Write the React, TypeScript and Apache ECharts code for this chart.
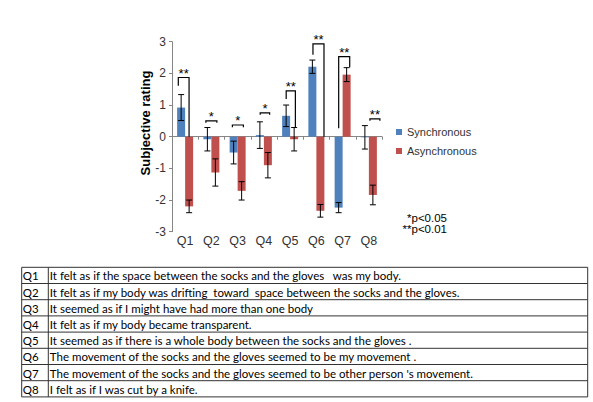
import React, { useEffect, useRef } from "react";
import * as echarts from "echarts";

const categories = ["Q1", "Q2", "Q3", "Q4", "Q5", "Q6", "Q7", "Q8"];
const syncMeans = [0.92, -0.08, -0.5, 0.05, 0.66, 2.21, -2.24, -0.02];
const syncErrors = [0.41, 0.37, 0.36, 0.42, 0.34, 0.21, 0.16, 0.37];
const asyncMeans = [-2.2, -1.13, -1.71, -0.9, -0.08, -2.34, 1.96, -1.84];
const asyncErrors = [0.2, 0.43, 0.29, 0.4, 0.37, 0.2, 0.22, 0.31];
const yTicks = [-3, -2, -1, 0, 1, 2, 3];
// [category, left offset (band fraction), right offset, left leg bottom, top, right leg bottom, mark]
const brackets: [number, number, number, number, number, number, string][] = [
  [0, -0.26, 0.15, 1.61, 1.87, 0, "**"],
  [1, -0.21, 0.21, 0.44, 0.5, 0.44, "*"],
  [2, -0.2, 0.22, 0.3, 0.37, 0.3, "*"],
  [3, -0.14, 0.22, 0.69, 0.75, 0.69, "*"],
  [4, -0.15, 0.2, 1.19, 1.45, 0.29, "**"],
  [5, -0.13, 0.29, 2.59, 2.93, 0, "**"],
  [6, -0.15, 0.27, 0.27, 2.53, 2.19, "**"],
  [7, 0.04, 0.42, 0.5, 0.56, 0.5, "**"],
];
const notes = ["*p<0.05", "**p<0.01"];
const questions = [
  "It felt as if the space between the socks and the gloves   was my body.",
  "It felt as if my body was drifting  toward  space between the socks and the gloves.",
  "It seemed as if I might have had more than one body",
  "It felt as if my body became transparent.",
  "It seemed as if there is a whole body between the socks and the gloves .",
  "The movement of the socks and the gloves seemed to be my movement .",
  "The movement of the socks and the gloves seemed to be other person 's movement.",
  "I felt as if I was cut by a knife.",
];

const BAR_W = 8;
const FONT = "'Liberation Sans', Arial, sans-serif";

function errorRenderer(offset: number) {
  return (params: any, api: any) => {
    const c = api.value(0);
    const v = api.value(1);
    const e = api.value(2);
    const top = api.coord([c, v + e]);
    const bot = api.coord([c, v - e]);
    const x = top[0] + offset;
    const style = { stroke: "#000", lineWidth: 1 };
    return {
      type: "group",
      children: [
        { type: "line", shape: { x1: x, y1: top[1], x2: x, y2: bot[1] }, style },
        { type: "line", shape: { x1: x - 3, y1: top[1], x2: x + 3, y2: top[1] }, style },
        { type: "line", shape: { x1: x - 3, y1: bot[1], x2: x + 3, y2: bot[1] }, style },
      ],
    };
  };
}

function bracketRenderer(params: any, api: any) {
  const c = api.value(0);
  const lf = api.value(1);
  const rf = api.value(2);
  const lb = api.value(3);
  const t = api.value(4);
  const rb = api.value(5);
  const band = api.size([1, 0])[0];
  const pt = api.coord([c, t]);
  const xl = pt[0] + lf * band;
  const xr = pt[0] + rf * band;
  const yl = api.coord([c, lb])[1];
  const yr = api.coord([c, rb])[1];
  const mark = brackets[params.dataIndex][6];
  return {
    type: "group",
    children: [
      {
        type: "polyline",
        shape: { points: [[xl, yl], [xl, pt[1]], [xr, pt[1]], [xr, yr]] },
        style: { stroke: "#000", lineWidth: 1.2, fill: null },
      },
      {
        type: "text",
        x: (xl + xr) / 2,
        y: pt[1] - 4,
        style: {
          text: mark,
          fontSize: 13,
          fontFamily: FONT,
          fill: "#000",
          align: "center",
          verticalAlign: "middle",
        },
      },
    ],
  };
}

export default function App() {
  const ref = useRef<HTMLDivElement>(null);
  useEffect(() => {
    if (!ref.current) return;
    const chart = echarts.init(ref.current, undefined, { renderer: "svg" });

    const tLeft = 21.7;
    const tRight = 587.7;
    const tTop = 267.3;
    const rowH = 16.2;
    const divX = 48.3;
    const tableEls: any[] = [];
    tableEls.push({
      type: "rect",
      shape: { x: tLeft, y: tTop, width: tRight - tLeft, height: rowH * questions.length },
      style: { fill: "#fff", stroke: "#333", lineWidth: 1 },
    });
    tableEls.push({
      type: "line",
      shape: { x1: divX, y1: tTop, x2: divX, y2: tTop + rowH * questions.length },
      style: { stroke: "#333", lineWidth: 1 },
    });
    questions.forEach((q, i) => {
      const yc = tTop + rowH * i + rowH / 2 + 0.5;
      if (i > 0) {
        tableEls.push({
          type: "line",
          shape: { x1: tLeft, y1: tTop + rowH * i, x2: tRight, y2: tTop + rowH * i },
          style: { stroke: "#333", lineWidth: 1 },
        });
      }
      tableEls.push({
        type: "text",
        x: tLeft + 1,
        y: yc,
        style: { text: categories[i], fontSize: 11.5, fontFamily: "Lato, sans-serif", fill: "#000", verticalAlign: "middle" },
      });
      tableEls.push({
        type: "text",
        x: divX + 1.5,
        y: yc,
        style: { text: q, fontSize: 11.5, fontFamily: "Lato, sans-serif", fill: "#000", verticalAlign: "middle" },
      });
    });

    chart.setOption({
      animation: false,
      backgroundColor: "#fff",
      grid: { left: 172, top: 41.7, width: 210, height: 190 },
      legend: {
        data: ["Synchronous", "Asynchronous"],
        orient: "vertical",
        left: 396,
        top: 126,
        padding: 0,
        itemWidth: 6,
        itemHeight: 6,
        itemGap: 7,
        icon: "rect",
        textStyle: { fontSize: 11, fontFamily: FONT, color: "#333", lineHeight: 12 },
      },
      xAxis: [
        {
          type: "category",
          data: categories,
          axisLine: { onZero: true, lineStyle: { color: "#868686", width: 1 } },
          axisTick: { show: true, length: 3, lineStyle: { color: "#868686" } },
          axisLabel: { show: false },
        },
        {
          type: "category",
          data: categories,
          position: "bottom",
          axisLine: { show: false, onZero: false },
          axisTick: { show: false },
          axisLabel: { fontSize: 12.5, fontFamily: FONT, color: "#333", margin: 3 },
        },
      ],
      yAxis: {
        type: "value",
        min: -3,
        max: 3,
        interval: 1,
        axisLine: { show: true, lineStyle: { color: "#868686", width: 1 } },
        axisTick: { show: true, length: 3, lineStyle: { color: "#868686" } },
        axisLabel: {
          fontSize: 12,
          fontFamily: FONT,
          color: "#333",
          margin: 6,
          formatter: (v: number) => (yTicks.includes(v) ? String(v) : ""),
        },
        splitLine: { show: false },
      },
      series: [
        {
          name: "Synchronous",
          type: "bar",
          data: syncMeans,
          barWidth: BAR_W,
          barGap: "0%",
          itemStyle: { color: "#4F81BD" },
        },
        {
          name: "Asynchronous",
          type: "bar",
          data: asyncMeans,
          barWidth: BAR_W,
          barGap: "0%",
          itemStyle: { color: "#C0504D" },
        },
        {
          type: "custom",
          renderItem: errorRenderer(-BAR_W / 2),
          data: syncMeans.map((v, i) => [i, v, syncErrors[i]]),
          z: 5,
          clip: false,
          silent: true,
        },
        {
          type: "custom",
          renderItem: errorRenderer(BAR_W / 2),
          data: asyncMeans.map((v, i) => [i, v, asyncErrors[i]]),
          z: 5,
          clip: false,
          silent: true,
        },
        {
          type: "custom",
          renderItem: bracketRenderer,
          data: brackets.map((b) => [b[0], b[1], b[2], b[3], b[4], b[5]]),
          z: 6,
          clip: false,
          silent: true,
        },
      ],
      graphic: [
        {
          type: "text",
          x: 145,
          y: 123,
          rotation: Math.PI / 2,
          style: {
            text: "Subjective rating",
            fontSize: 13,
            fontWeight: "bold",
            fontFamily: FONT,
            fill: "#000",
            align: "center",
            verticalAlign: "middle",
          },
        },
        {
          type: "text",
          x: 447,
          y: 217.7,
          style: { text: notes[0], fontSize: 11.5, fontFamily: FONT, fill: "#000", align: "right", verticalAlign: "middle" },
        },
        {
          type: "text",
          x: 447,
          y: 229.3,
          style: { text: notes[1], fontSize: 11.5, fontFamily: FONT, fill: "#000", align: "right", verticalAlign: "middle" },
        },
        ...tableEls,
      ],
    });
    return () => chart.dispose();
  }, []);
  return (
    <div
      ref={ref}
      style={{ position: "absolute", left: 0, top: 0, width: 593, height: 402, background: "#fff" }}
    />
  );
}
